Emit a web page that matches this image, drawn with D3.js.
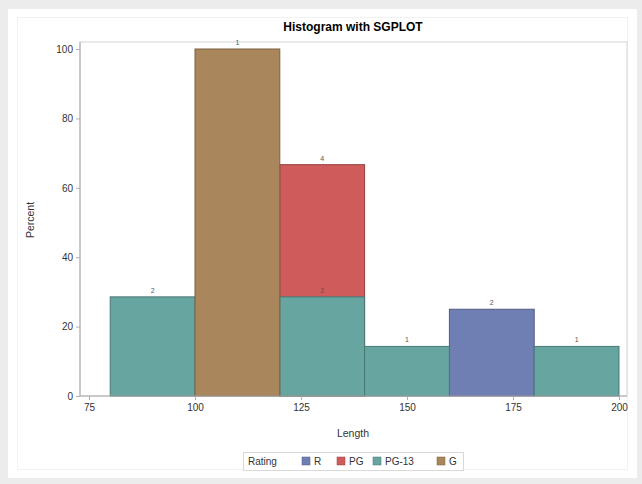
<!DOCTYPE html>
<html><head><meta charset="utf-8">
<script src="https://cdn.jsdelivr.net/npm/d3@7"></script>
<style>
html,body{margin:0;padding:0;background:#ececec;}
svg{display:block;font-family:"Liberation Sans",Arial,sans-serif;}
</style></head>
<body>
<script>
// ---- data ----
const title = "Histogram with SGPLOT";
const xLabel = "Length";
const yLabel = "Percent";
const legendTitle = "Rating";
const ratings = ["R", "PG", "PG-13", "G"];
const ratingColors = ["#6F7EB3", "#D05B5B", "#66A5A0", "#A9865B"];
const binWidth = 20;
// bars in drawing order (overlaid)
const barRating  = ["R",  "PG",  "PG-13", "PG-13", "PG-13", "PG-13", "G"];
const barStart   = [160,  120,   80,      120,     140,     180,     100];
const barPercent = [25,   66.67, 28.57,   28.57,   14.29,   14.29,   100];
const barCount   = [2,    4,     2,       2,       1,       1,       1];
const xTicks = [75, 100, 125, 150, 175, 200];
const yTicks = [0, 20, 40, 60, 80, 100];

// ---- layout ----
const W = 642, H = 484;
const svg = d3.select("body").append("svg").attr("width", W).attr("height", H);
svg.append("rect").attr("x", 0).attr("y", 0).attr("width", W).attr("height", H).attr("fill", "#ececec");
svg.append("rect").attr("x", 8).attr("y", 9).attr("width", 629).attr("height", 469).attr("fill", "#fff");
svg.append("rect").attr("x", 17.5).attr("y", 17.5).attr("width", 610).attr("height", 452)
  .attr("fill", "none").attr("stroke", "#f2f2f2");

const frame = {l: 80, r: 627, t: 42, b: 396};
const x = d3.scaleLinear().domain([75, 200]).range([89, 619]);
const y = d3.scaleLinear().domain([0, 100]).range([396, 49]);
const color = d3.scaleOrdinal().domain(ratings).range(ratingColors);

// frame
svg.append("rect").attr("x", frame.l).attr("y", frame.t)
  .attr("width", frame.r - frame.l).attr("height", frame.b - frame.t)
  .attr("fill", "none").attr("stroke", "#d4d4d4");

// bars
const bars = barStart.map((s, i) => ({s, r: barRating[i], p: barPercent[i], c: barCount[i]}));
svg.append("g").selectAll("rect").data(bars).join("rect")
  .attr("x", d => x(d.s)).attr("width", d => x(d.s + binWidth) - x(d.s))
  .attr("y", d => y(d.p)).attr("height", d => y(0) - y(d.p))
  .attr("fill", d => color(d.r))
  .attr("stroke", d => d3.color(color(d.r)).darker(0.9))
  .attr("stroke-width", 1);

svg.append("g").selectAll("text").data(bars).join("text")
  .attr("x", d => x(d.s + binWidth / 2)).attr("y", d => y(d.p) - 4)
  .attr("text-anchor", "middle").attr("font-size", 7).attr("fill", "#555")
  .text(d => d.c);

// axes
const xAxis = svg.append("g").attr("transform", `translate(0,${frame.b})`)
  .call(d3.axisBottom(x).tickValues(xTicks).tickSize(4).tickPadding(4));
const yAxis = svg.append("g").attr("transform", `translate(${frame.l},0)`)
  .call(d3.axisLeft(y).tickValues(yTicks).tickSize(4).tickPadding(3));
[xAxis, yAxis].forEach(a => {
  a.select(".domain").remove();
  a.selectAll(".tick line").attr("stroke", "#b0b0b0");
  a.selectAll(".tick text").attr("fill", "#333").attr("font-size", 10).attr("font-family", "Liberation Sans, Arial, sans-serif");
});
svg.append("line").attr("x1", frame.l).attr("x2", frame.r).attr("y1", frame.b).attr("y2", frame.b).attr("stroke", "#a8a8a8");
svg.append("line").attr("x1", frame.l).attr("x2", frame.l).attr("y1", frame.t).attr("y2", frame.b).attr("stroke", "#a8a8a8");

// titles
svg.append("text").attr("x", 353).attr("y", 31).attr("text-anchor", "middle")
  .attr("font-size", 12).attr("font-weight", "bold").attr("fill", "#000").text(title);
svg.append("text").attr("x", 353).attr("y", 437).attr("text-anchor", "middle")
  .attr("font-size", 10.5).attr("fill", "#333").text(xLabel);
svg.append("text").attr("transform", "translate(34,220) rotate(-90)").attr("text-anchor", "middle")
  .attr("font-size", 10.5).attr("fill", "#333").text(yLabel);

// legend
const lg = svg.append("g");
lg.append("rect").attr("x", 243.5).attr("y", 452.5).attr("width", 220).attr("height", 18)
  .attr("fill", "#fff").attr("stroke", "#d8d8d8");
lg.append("text").attr("x", 248).attr("y", 465).attr("font-size", 10).attr("fill", "#333").text(legendTitle);
const legX = [302, 337, 373, 437];
ratings.forEach((r, i) => {
  lg.append("rect").attr("x", legX[i]).attr("y", 457).attr("width", 8).attr("height", 8)
    .attr("fill", color(r)).attr("stroke", d3.color(color(r)).darker(0.9)).attr("stroke-width", 0.5);
  lg.append("text").attr("x", legX[i] + 12).attr("y", 465).attr("font-size", 10).attr("fill", "#333").text(r);
});
</script>
</body></html>
